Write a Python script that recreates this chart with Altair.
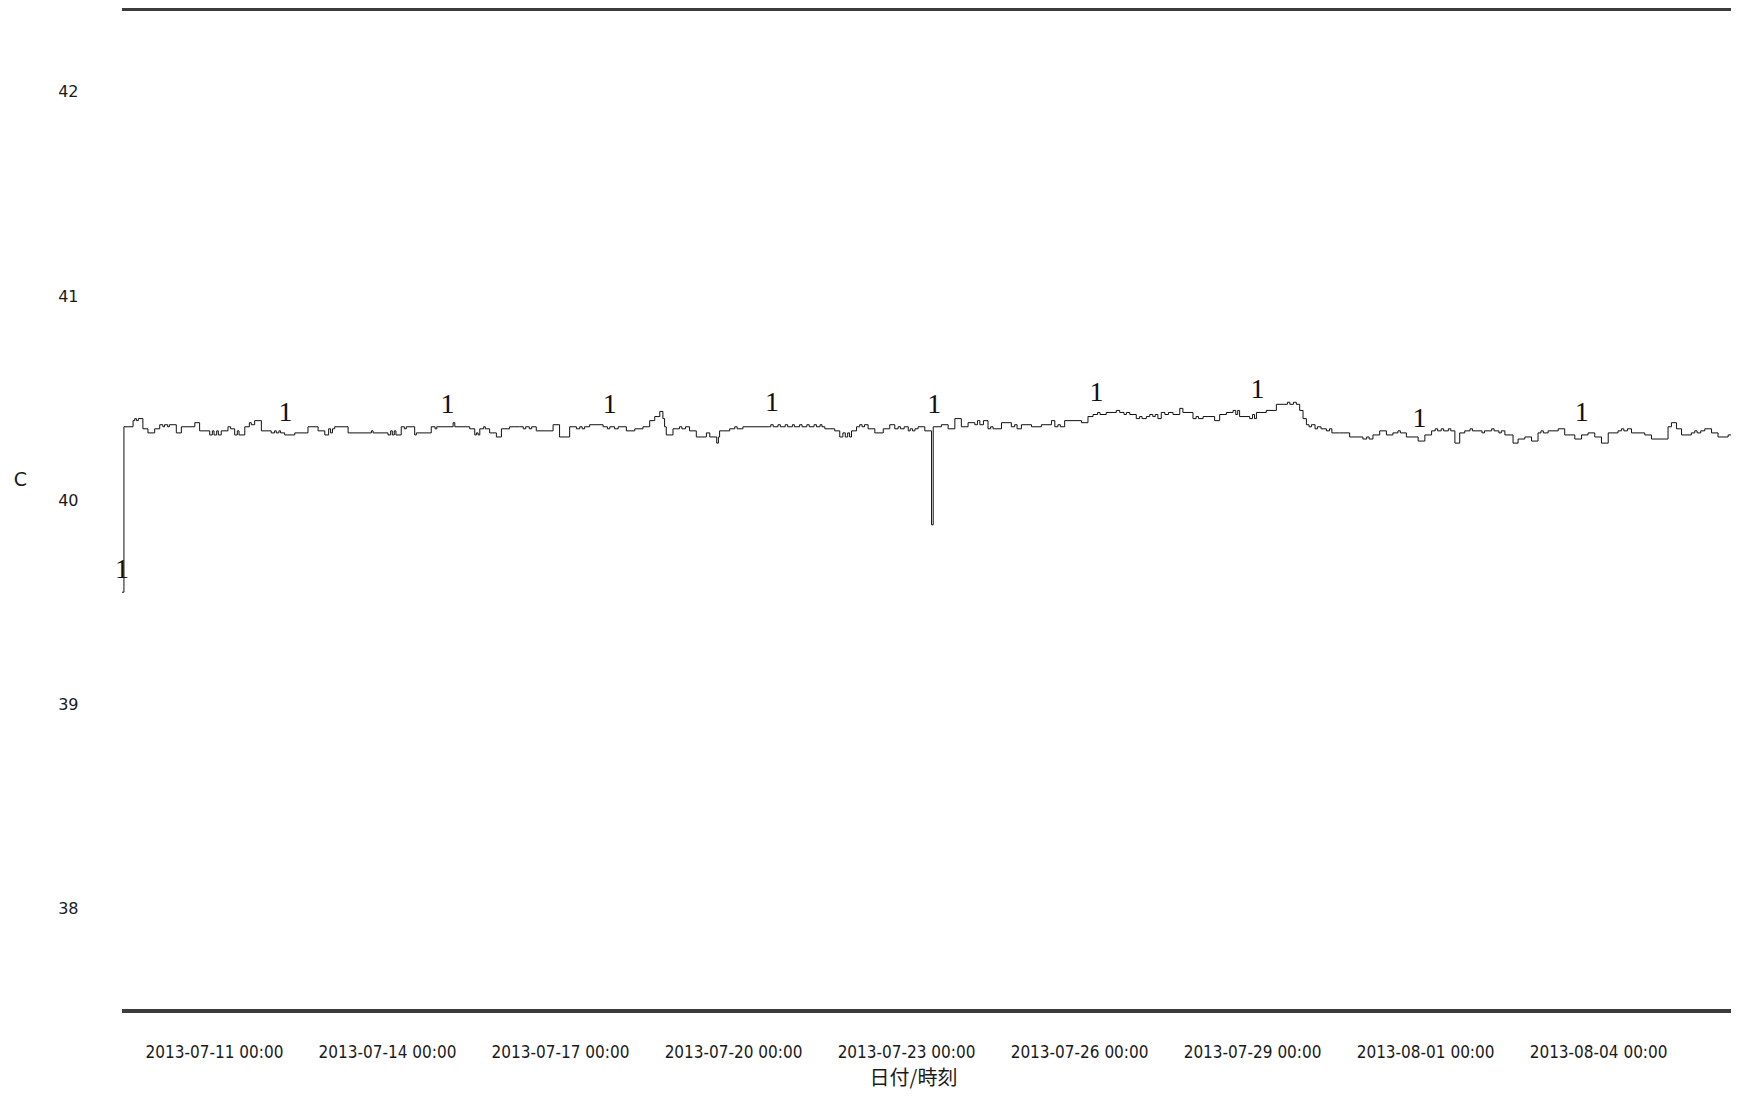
import altair as alt
import pandas as pd

START = pd.Timestamp("2013-07-09 09:43")
HOURS_PER_PX = 24 / 57.67

# (hours after start, temperature C)
seg1 = [(0, 39.55), (0.8, 40.36), (4.6, 40.39), (5.3, 40.40), (6.0, 40.39), (6.8, 40.40),
        (8.7, 40.35), (10.8, 40.33), (13.6, 40.35), (15.7, 40.37), (17.0, 40.36), (17.7, 40.37),
        (19.0, 40.36), (19.7, 40.37), (22.6, 40.33), (24.7, 40.36), (30.3, 40.38), (32.3, 40.34),
        (36.5, 40.32), (37.6, 40.34), (38.3, 40.32), (39.4, 40.34), (40.1, 40.32), (41.3, 40.34),
        (44.1, 40.36), (45.2, 40.35), (46.9, 40.32), (48.0, 40.34), (48.7, 40.32), (51.1, 40.36),
        (53.0, 40.38), (53.8, 40.37), (55.2, 40.39), (58.0, 40.34), (62.1, 40.33), (63.5, 40.34),
        (64.2, 40.33), (65.3, 40.34), (66.0, 40.33), (67.7, 40.32), (71.9, 40.33), (77.4, 40.36),
        (81.6, 40.34), (84.4, 40.32), (86.0, 40.35), (86.8, 40.33), (87.6, 40.35), (88.5, 40.36),
        (94.1, 40.33), (103.8, 40.34), (104.5, 40.33), (110.7, 40.32), (111.8, 40.34), (112.5, 40.32),
        (113.3, 40.34), (114.0, 40.32), (116.2, 40.36), (117.5, 40.35), (118.3, 40.36), (121.8, 40.32),
        (122.5, 40.33), (128.7, 40.36), (130.3, 40.35), (131.0, 40.36)]

seg2 = [(133.6, 40.36), (137.8, 40.38), (138.5, 40.36), (144.7, 40.35), (146.8, 40.32), (147.5, 40.33),
        (148.2, 40.32), (148.9, 40.35), (150.5, 40.36), (151.2, 40.35), (153.0, 40.33), (155.8, 40.31),
        (157.9, 40.35), (161.3, 40.36), (165.5, 40.36), (167.0, 40.35), (168.0, 40.36), (169.5, 40.35),
        (170.5, 40.36), (172.4, 40.34), (179.4, 40.37), (182.1, 40.31), (186.3, 40.36), (189.1, 40.35),
        (190.5, 40.36), (191.5, 40.35), (192.5, 40.36), (194.6, 40.37), (200.2, 40.36), (202.0, 40.35),
        (203.0, 40.36), (205.0, 40.35), (206.5, 40.36), (209.9, 40.34), (213.4, 40.35), (216.8, 40.36),
        (219.6, 40.39), (221.7, 40.41), (223.8, 40.435), (225.1, 40.40), (225.8, 40.36), (226.5, 40.32),
        (229.3, 40.35), (232.0, 40.36), (233.0, 40.35), (234.5, 40.36), (236.2, 40.34), (239.0, 40.31),
        (243.2, 40.33), (244.6, 40.31), (247.5, 40.28), (248.2, 40.31), (248.7, 40.34), (252.9, 40.35),
        (255.0, 40.36), (256.0, 40.35), (258.4, 40.36)]

seg3 = [(268.9, 40.36), (270.0, 40.37), (271.0, 40.36), (273.0, 40.37), (274.0, 40.36), (276.0, 40.37),
        (277.0, 40.36), (279.0, 40.37), (279.8, 40.36), (282.0, 40.37), (283.0, 40.36), (285.0, 40.37),
        (286.0, 40.36), (288.0, 40.37), (289.0, 40.36), (290.5, 40.37), (291.3, 40.36), (292.5, 40.35),
        (296.6, 40.34), (298.7, 40.31), (300.0, 40.33), (301.0, 40.31), (302.0, 40.33), (302.8, 40.31),
        (303.6, 40.34), (305.7, 40.36), (307.0, 40.37), (308.0, 40.36), (309.0, 40.37), (310.5, 40.35),
        (313.3, 40.33), (316.8, 40.35), (319.5, 40.37), (321.6, 40.35), (323.0, 40.36), (324.0, 40.35),
        (325.5, 40.36), (327.2, 40.34), (328.0, 40.35), (329.0, 40.34), (330.0, 40.35), (331.3, 40.36),
        (334.1, 40.34), (336.9, 39.88), (337.6, 40.36), (341.0, 40.37), (343.8, 40.35), (346.6, 40.40),
        (349.3, 40.36), (352.1, 40.38), (354.9, 40.37), (356.0, 40.39), (357.0, 40.37), (358.5, 40.39),
        (360.4, 40.35), (361.5, 40.36), (362.5, 40.35), (366.0, 40.38), (370.1, 40.36), (371.5, 40.37),
        (372.5, 40.35), (374.3, 40.37), (378.5, 40.36), (382.6, 40.37), (386.8, 40.39), (388.2, 40.36),
        (389.5, 40.37), (390.5, 40.36), (392.3, 40.39), (399.3, 40.38), (402.0, 40.41)]

seg4 = [(404.1, 40.42), (406.0, 40.43), (407.0, 40.42), (409.6, 40.43), (413.8, 40.44), (415.2, 40.43),
        (417.0, 40.42), (418.0, 40.43), (419.4, 40.42), (422.1, 40.40), (423.5, 40.41), (424.5, 40.40),
        (426.3, 40.41), (427.7, 40.42), (429.0, 40.41), (430.0, 40.42), (431.1, 40.40), (432.5, 40.43),
        (434.0, 40.42), (435.5, 40.43), (437.4, 40.42), (440.2, 40.45), (441.5, 40.43), (445.7, 40.40),
        (447.0, 40.41), (448.0, 40.40), (449.9, 40.41), (454.7, 40.39), (456.8, 40.42), (459.6, 40.43),
        (462.4, 40.44), (463.5, 40.42), (464.3, 40.44), (465.1, 40.41), (469.3, 40.40), (470.5, 40.42),
        (471.3, 40.40), (472.1, 40.43), (476.2, 40.44), (480.4, 40.47), (485.0, 40.48), (486.0, 40.47),
        (487.5, 40.48), (488.7, 40.47), (490.1, 40.44), (491.5, 40.40), (492.9, 40.37), (494.0, 40.36),
        (495.0, 40.37), (496.5, 40.35), (497.5, 40.36), (499.0, 40.35), (501.2, 40.34), (502.5, 40.35),
        (503.5, 40.33), (506.7, 40.33), (510.9, 40.31), (516.4, 40.30), (518.0, 40.31), (519.0, 40.30),
        (520.6, 40.32), (523.4, 40.34), (526.2, 40.32), (528.9, 40.33), (531.0, 40.34), (532.0, 40.33),
        (534.5, 40.31)]

seg5 = [(539.4, 40.29), (542.2, 40.32), (545.0, 40.34), (546.5, 40.35), (547.5, 40.34), (549.0, 40.35),
        (550.0, 40.34), (552.0, 40.35), (553.0, 40.34), (554.7, 40.28), (556.7, 40.33), (558.8, 40.34),
        (561.0, 40.35), (562.0, 40.34), (566.0, 40.33), (567.0, 40.34), (570.0, 40.35), (571.0, 40.34),
        (573.0, 40.33), (574.0, 40.34), (575.5, 40.32), (578.9, 40.28), (581.0, 40.30), (583.8, 40.31),
        (586.6, 40.29), (589.3, 40.33), (590.5, 40.34), (591.5, 40.33), (593.5, 40.34), (597.7, 40.35),
        (600.4, 40.32), (604.6, 40.30), (607.4, 40.32), (610.1, 40.33), (612.9, 40.31), (615.7, 40.28),
        (618.5, 40.33), (622.6, 40.34), (624.0, 40.35), (625.0, 40.34), (626.5, 40.35), (628.2, 40.33),
        (633.7, 40.32), (636.5, 40.30), (643.4, 40.36), (644.8, 40.38), (646.9, 40.35), (649.0, 40.32),
        (653.1, 40.33), (654.5, 40.34), (655.5, 40.33), (657.0, 40.34), (658.7, 40.35), (661.5, 40.33),
        (664.2, 40.31), (668.4, 40.32), (673.0, 40.32)]

# hours at which the series label "1" is drawn
MARK_HOURS = [0, 68, 135.5, 203, 270.5, 338, 405.5, 472.5, 540, 607.5]

TICK_DATES = [(7, 11), (7, 14), (7, 17), (7, 20), (7, 23), (7, 26), (7, 29), (8, 1), (8, 4)]

W, H = 1609, 1003
END_HOURS = W * HOURS_PER_PX

pairs = seg1 + seg2 + seg3 + seg4 + seg5
df = pd.DataFrame(pairs, columns=["hours", "temp"])
df["time"] = (START + pd.to_timedelta(df["hours"], unit="h")).dt.strftime("%Y-%m-%dT%H:%M:%S")


def value_at(h):
    sub = df[df["hours"] <= h]
    return float(sub["temp"].iloc[-1])


marks = pd.DataFrame({"hours": MARK_HOURS})
marks["temp"] = [value_at(h) for h in MARK_HOURS]
marks["time"] = (START + pd.to_timedelta(marks["hours"], unit="h")).dt.strftime("%Y-%m-%dT%H:%M:%S")
marks["label"] = "1"

end = START + pd.Timedelta(hours=END_HOURS)
x_domain = [
    alt.DateTime(year=START.year, month=START.month, date=START.day, hours=START.hour, minutes=START.minute),
    alt.DateTime(year=end.year, month=end.month, date=end.day, hours=end.hour, minutes=end.minute),
]
tick_values = [alt.DateTime(year=2013, month=m, date=d, hours=0, minutes=0) for m, d in TICK_DATES]

x_enc = alt.X(
    "time:T",
    scale=alt.Scale(domain=x_domain),
    axis=alt.Axis(
        title="日付/時刻",
        values=tick_values,
        format="%Y-%m-%d %H:%M",
        labelFont="DejaVu Sans Condensed",
        labelFontSize=17,
        labelColor="#1a1a1a",
        labelPadding=33,
        labelFlush=False,
        ticks=False,
        domain=False,
        grid=False,
        titleFont="Noto Sans CJK JP",
        titleFontSize=20,
        titleFontWeight="normal",
        titleColor="#1a1a1a",
        titleX=791,
        titleY=67,
        titleAlign="center",
        titleBaseline="middle",
    ),
)
y_enc = alt.Y(
    "temp:Q",
    scale=alt.Scale(domain=[37.5, 42.41], nice=False, zero=False),
    axis=alt.Axis(
        title="C",
        values=[38, 39, 40, 41, 42],
        format="d",
        labelFont="DejaVu Sans",
        labelFontSize=16,
        labelColor="#1a1a1a",
        labelPadding=44,
        labelAlign="right",
        ticks=False,
        domain=False,
        grid=False,
        titleFont="DejaVu Sans",
        titleFontSize=19,
        titleFontWeight="normal",
        titleColor="#1a1a1a",
        titleAngle=0,
        titleX=-102,
        titleY=471,
        titleAlign="center",
        titleBaseline="middle",
    ),
)

line = alt.Chart(df).mark_line(interpolate="step-after", color="#111111", strokeWidth=1).encode(
    x=x_enc, y=y_enc
)

labels = alt.Chart(marks).mark_text(
    font="Liberation Serif", fontSize=28, dy=-22, baseline="middle", align="center", color="#111111"
).encode(x="time:T", y="temp:Q", text="label:N")

top_rule = alt.Chart(df).mark_rule(color="#3c3c3c", strokeWidth=3).encode(
    y=alt.value(1), x=alt.value(0), x2=alt.value(W)
)
bottom_rule = alt.Chart(df).mark_rule(color="#3c3c3c", strokeWidth=3).encode(
    y=alt.value(H), x=alt.value(0), x2=alt.value(W)
)

chart = (
    alt.layer(line, labels, top_rule, bottom_rule)
    .properties(
        width=W,
        height=H,
        padding={"left": 114, "top": 0, "right": 0, "bottom": 80},
        autosize=alt.AutoSizeParams(type="none"),
        background="white",
    )
    .configure_view(stroke=None)
)

chart.save("out.html", embed_options={"renderer": "svg", "actions": False})
